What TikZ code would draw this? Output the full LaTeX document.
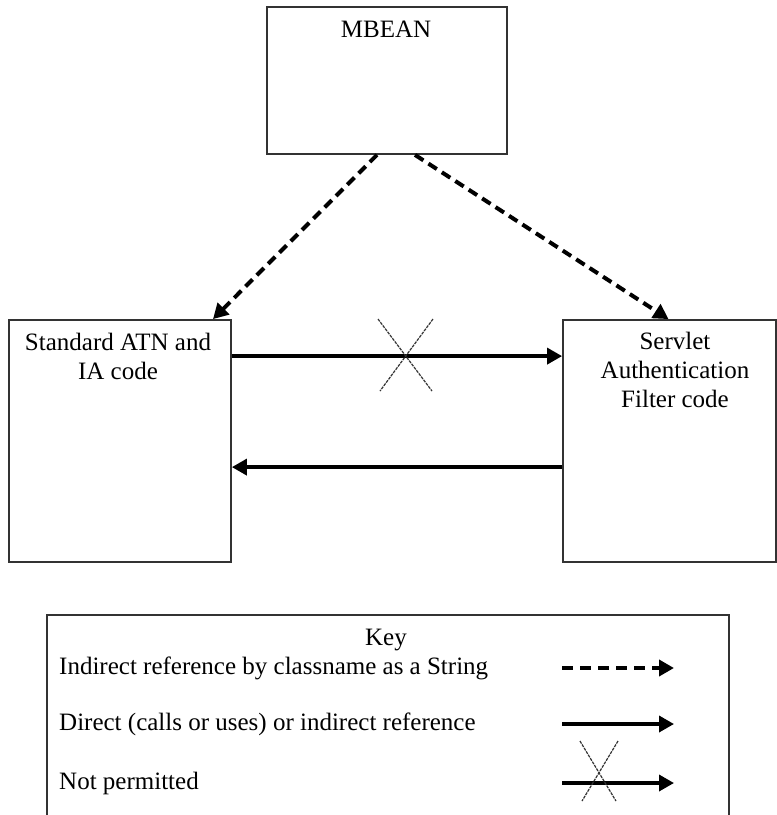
\documentclass[tikz,border=0pt]{standalone}
\usepackage{fontspec}
\setmainfont{Liberation Serif}
\usetikzlibrary{arrows.meta,calc}
\begin{document}
\begin{tikzpicture}[x=1pt,y=-1pt,
  boxshape/.style={draw=black!80,line width=1.8pt,rectangle,inner sep=0pt},
  lbl/.style={font=\fontsize{25}{29}\selectfont,inner sep=0pt},
  tip/.style={-{Triangle[length=15pt,width=16pt]}},
  solidarrow/.style={tip,line width=3.5pt,black},
  dasharrow/.style={tip,line width=4pt,black,dash pattern=on 10pt off 6pt},
  crossline/.style={line width=1.2pt,black!80,dash pattern=on 3pt off 1pt}]
\useasboundingbox (0,0) rectangle (777,815);
\fill[white] (0,0) rectangle (777,815);
% boxes
\node[boxshape,minimum width=240pt,minimum height=147pt] (mbean) at (387,80.5) {};
\node[boxshape,minimum width=222pt,minimum height=242pt] (std) at (120,441) {};
\node[boxshape,minimum width=213pt,minimum height=242pt] (srv) at (669.5,441) {};
\node[draw=none,inner sep=0pt,minimum width=682pt,minimum height=200pt] (key) at (388,715) {};
\draw[black!80,line width=1.8pt] (key.south west) -- (key.north west) -- (key.north east) -- (key.south east);
% box texts
\node[lbl,anchor=base] (mbeant) at (386,37) {MBEAN};
\node[lbl,anchor=north,align=center] (stdt) at (118,332.5) {Standard ATN and\\IA code};
\node[lbl,anchor=north,align=center] (srvt) at (675,332) {Servlet\\Authentication\\Filter code};
% dashed references
\draw[dasharrow] ($(mbean.south)+(-10,0)$) -- ($(std.north)+(93,0)$);
\draw[dasharrow] ($(mbean.south)+(28,0)$) -- ($(srv.north)+(-1,0)$);
% direct references
\draw[solidarrow] ($(std.north east)+(0,37)$) -- ($(srv.north west)+(0,37)$);
\draw[solidarrow] ($(srv.north west)+(0,148)$) -- ($(std.north east)+(0,148)$);
% not permitted cross
\coordinate (xc) at (406,357);
\draw[crossline] ($(xc)+(-28,-38)$) -- ($(xc)+(26,34)$);
\draw[crossline] ($(xc)+(27,-38)$) -- ($(xc)+(-26,34)$);
% key
\node[lbl,anchor=base] (keyt) at (386,645) {Key};
\node[lbl,anchor=base west] (k1t) at (59,674) {Indirect reference by classname as a String};
\node[lbl,anchor=base west] (k2t) at (59,730) {Direct (calls or uses) or indirect reference};
\node[lbl,anchor=base west] (k3t) at (59,789) {Not permitted};
\coordinate (k1a) at (562,668); \coordinate (k1b) at (674,668);
\coordinate (k2a) at (562,724); \coordinate (k2b) at (674,724);
\coordinate (k3a) at (562,783); \coordinate (k3b) at (674,783);
\draw[dasharrow,dash pattern=on 11pt off 7pt] (k1a) -- (k1b);
\draw[solidarrow] (k2a) -- (k2b);
\draw[solidarrow] (k3a) -- (k3b);
\coordinate (kx) at (599,772);
\draw[crossline] ($(kx)+(-19,-31)$) -- ($(kx)+(17,29)$);
\draw[crossline] ($(kx)+(19,-31)$) -- ($(kx)+(-17,29)$);
\end{tikzpicture}
\end{document}
